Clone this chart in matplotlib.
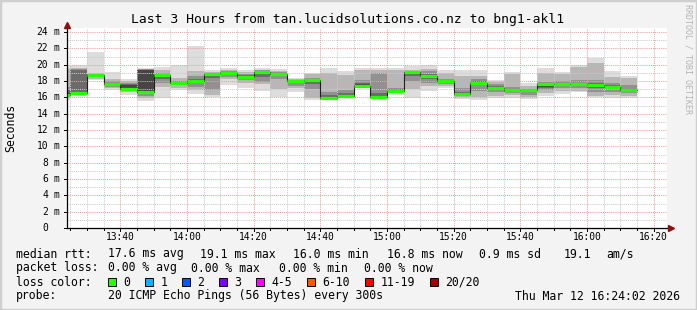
import datetime as dt
import matplotlib
matplotlib.use("Agg")
import matplotlib.pyplot as plt
import matplotlib.dates as mdates
from matplotlib.patches import Rectangle

# --- data (ms), one value per 5 min step ---
step_start = "2026-03-12 13:20"
n_steps = 35
median = [16.3, 16.55, 18.75, 17.6, 17.05, 16.6, 18.75, 17.75, 17.95, 18.85,
          19.0, 18.55, 19.05, 18.85, 18.0, 18.1, 15.95, 16.15, 17.4, 16.05,
          16.75, 19.05, 18.65, 18.0, 16.4, 17.8, 17.2, 16.85, 16.85, 17.65,
          17.65, 17.6, 17.55, 17.25, 16.85]

# smoke bands: outermost pings (lo1/hi1) down to the innermost pair (lo5/hi5)
lo1 = [15.7, 16.2, 18.1, 16.9, 16.3, 15.55, 15.9, 16.95, 16.4, 16.1, 17.5, 17.2, 16.8, 16.1, 16.7, 15.7, 15.7, 15.95,
       17.1, 15.9, 16.3, 15.9, 16.8, 17.15, 15.75, 15.7, 15.9, 15.95, 15.75, 16.2, 16.35, 16.6, 16.0, 15.9, 15.9]
hi1 = [20.0, 20.0, 21.6, 19.15, 18.25, 19.6, 19.75, 20.0, 22.3, 19.3, 19.55, 19.35, 19.55, 19.5, 18.4, 19.0, 19.6, 19.2,
       19.6, 19.6, 19.6, 19.8, 19.9, 19.35, 19.4, 19.35, 18.1, 19.1, 17.8, 19.6, 19.05, 19.95, 20.85, 19.2, 18.65]
lo2 = [15.9, 16.3, 18.2, 17.1, 16.6, 15.9, 17.3, 17.2, 16.9, 16.3, 18.2, 17.8, 17.6, 17.0, 17.1, 15.9, 15.8, 16.0,
       17.2, 15.95, 16.5, 17.0, 17.4, 17.4, 16.0, 16.0, 16.2, 16.3, 16.0, 16.5, 16.8, 16.8, 16.2, 16.3, 16.2]
hi2 = [19.5, 19.6, 18.95, 18.3, 18.0, 19.5, 19.3, 18.4, 19.2, 19.1, 19.4, 19.1, 19.4, 19.2, 18.25, 18.9, 19.0, 18.7,
       19.3, 19.3, 19.35, 19.4, 19.5, 19.0, 18.6, 18.6, 17.9, 18.9, 17.4, 19.0, 18.8, 19.7, 20.15, 18.5, 18.4]
lo3 = [16.1, 16.4, 18.5, 17.3, 16.8, 16.2, 17.7, 17.45, 17.3, 16.9, 18.5, 18.1, 17.9, 18.3, 17.4, 17.0, 15.85, 16.05,
       17.3, 16.0, 16.6, 18.0, 17.7, 17.6, 16.2, 16.8, 16.6, 16.5, 16.3, 16.9, 17.2, 17.2, 16.7, 16.7, 16.5]
hi3 = [17.3, 19.45, 18.85, 18.0, 17.8, 19.45, 19.0, 18.05, 18.6, 18.95, 19.25, 18.9, 19.3, 19.05, 18.15, 18.4, 16.7, 16.9,
       18.1, 18.95, 17.2, 19.25, 19.2, 18.3, 17.2, 18.2, 17.6, 17.3, 17.0, 17.9, 18.0, 18.1, 18.1, 17.8, 17.5]
lo4 = [16.2, 16.5, 18.6, 17.45, 16.95, 16.4, 18.3, 17.6, 17.7, 18.4, 18.8, 18.3, 18.5, 18.6, 17.7, 17.6, 15.9, 16.1,
       17.35, 16.02, 16.7, 18.6, 18.3, 17.8, 16.3, 17.5, 16.95, 16.6, 16.6, 17.2, 17.5, 17.4, 17.1, 17.0, 16.7]
hi4 = [16.9, 19.3, 18.85, 17.8, 17.65, 19.4, 18.85, 17.9, 18.2, 18.92, 19.15, 18.75, 19.15, 18.95, 18.05, 18.25, 16.3, 16.5,
       17.8, 16.5, 17.0, 19.15, 18.85, 18.15, 16.7, 17.95, 17.35, 17.0, 16.95, 17.7, 17.75, 17.8, 17.7, 17.45, 17.0]
lo5 = [16.25, 16.52, 18.7, 17.55, 17.0, 16.5, 18.6, 17.7, 17.85, 18.7, 18.9, 18.45, 18.9, 18.75, 17.9, 17.95, 15.92, 16.12,
       17.4, 16.04, 16.72, 18.95, 18.55, 17.9, 16.35, 17.7, 17.1, 16.7, 16.75, 17.3, 17.6, 17.5, 17.3, 17.15, 16.8]
hi5 = [16.5, 16.7, 18.8, 17.7, 17.55, 19.3, 18.8, 17.85, 18.05, 18.9, 19.1, 18.65, 19.1, 18.9, 18.02, 18.2, 16.1, 16.3,
       17.6, 16.2, 16.9, 19.1, 18.75, 18.08, 16.5, 17.9, 17.25, 16.9, 16.9, 17.65, 17.7, 17.7, 17.6, 17.35, 16.95]

y_ticks = [0, 2, 4, 6, 8, 10, 12, 14, 16, 18, 20, 22, 24]
x_tick_labels = ["13:40", "14:00", "14:20", "14:40", "15:00", "15:20", "15:40", "16:00", "16:20"]

loss_labels = ["0", "1", "2", "3", "4-5", "6-10", "11-19", "20/20"]
loss_colors = ["#26ff00", "#00b8ff", "#0059ff", "#7e00ff", "#ff00ff", "#ff5500", "#ff0000", "#a10000"]

title = "Last 3 Hours from tan.lucidsolutions.co.nz to bng1-akl1"
stamp = "Thu Mar 12 16:24:02 2026"

# --- figure ---
W, H = 697, 310
MONO = "DejaVu Sans Mono"
fig = plt.figure(figsize=(W / 100, H / 100), dpi=100, facecolor="#f3f3f3")
fig.patches.append(Rectangle((0, 0), 1, 1, transform=fig.transFigure, fill=False,
                             edgecolor="#cfcfcf", linewidth=2.5))


def fx(x):
    return x / W


def fy(y):
    return 1 - y / H


ax = fig.add_axes([fx(67), fy(228), 600 / W, 200 / H])
ax.set_facecolor("white")

t0 = dt.datetime.strptime(step_start, "%Y-%m-%d %H:%M")
edges = [t0 + dt.timedelta(minutes=5 * i) for i in range(n_steps + 1)]
xe = mdates.date2num(edges)
t_end = dt.datetime(2026, 3, 12, 16, 24, 2)
t_begin = t_end - dt.timedelta(hours=3)
ax.set_xlim(mdates.date2num(t_begin), mdates.date2num(t_end))
ax.set_ylim(0, 200 / (196 / 24))

# smoke
shades = ["#dddddd", "#b7b7b7", "#919191", "#6b6b6b", "#454545"]
for lo, hi, c in zip([lo1, lo2, lo3, lo4, lo5], [hi1, hi2, hi3, hi4, hi5], shades):
    ax.fill_between(xe, lo + lo[-1:], hi + hi[-1:], step="post", color=c, lw=0, zorder=1)

# grid
for v in range(1, 25):
    ax.axhline(v, color="#f2a0a0" if v % 2 == 0 else "#cccccc", lw=0.75,
               ls=(0, (1, 1)), zorder=2)
for i in range(1, 37):
    t = t0 + dt.timedelta(minutes=5 * i)
    col = "#f2a0a0" if t.minute % 20 == 0 else "#cccccc"
    ax.axvline(mdates.date2num(t), color=col, lw=0.75, ls=(0, (1, 1)), zorder=2)

# median line: thin dark steps and loss-coloured bars
ax.step(xe, median + median[-1:], where="post", color="#202020", lw=0.8, zorder=3)
ax.hlines(median, xe[:-1], xe[1:], color=loss_colors[0], lw=2.3, zorder=4)

for s in ax.spines.values():
    s.set_visible(False)
ax.set_xticks([])
ax.set_yticks([])

# axes lines with arrows
ax.plot([0, 0], [0, 1.017], transform=ax.transAxes, color="#000000", lw=0.9, clip_on=False, zorder=5)
ax.plot([0, 1.007], [0, 0], transform=ax.transAxes, color="#000000", lw=0.9, clip_on=False, zorder=5)
ax.plot([0], [1.017], transform=ax.transAxes, marker="^", ms=4, color="#8b1010", clip_on=False, zorder=6)
ax.plot([1.007], [0], transform=ax.transAxes, marker=">", ms=4, color="#8b1010", clip_on=False, zorder=6)

# y tick labels
tick_font = dict(family=MONO, size=6.9, color="#000000")
for v in y_ticks:
    ypx = 228 - v * 196 / 24
    fig.text(fx(48), fy(ypx), str(v), ha="right", va="center", **tick_font)
    if v:
        fig.text(fx(53.5), fy(ypx), "m", ha="left", va="center", **tick_font)
    fig.lines.append(plt.Line2D([fx(64), fx(67)], [fy(ypx), fy(ypx)], transform=fig.transFigure,
                                color="#000000", lw=0.7))

# x tick labels
for lab in x_tick_labels:
    hh, mm = map(int, lab.split(":"))
    t = dt.datetime(2026, 3, 12, hh, mm)
    xpx = 67 + (t - t_begin).total_seconds() / 60 * 600 / 180
    fig.text(fx(xpx), fy(237.5), lab, ha="center", va="center", **tick_font)
for i in range(1, 37):
    t = t0 + dt.timedelta(minutes=5 * i)
    xpx = 67 + (t - t_begin).total_seconds() / 60 * 600 / 180
    if xpx > 667:
        break
    ln = 3 if t.minute % 20 == 0 else 2
    fig.lines.append(plt.Line2D([fx(xpx), fx(xpx)], [fy(228), fy(228 + ln)], transform=fig.transFigure,
                                color="#000000", lw=0.7))

# titles
fig.text(fx(347.5), fy(19), title, ha="center", va="center", family=MONO, size=9.4)
fig.text(fx(11), fy(128), "Seconds", ha="center", va="center", rotation=90, family=MONO, size=8.3)
fig.text(fx(688), fy(59), "RRDTOOL / TOBI OETIKER", ha="center", va="center", rotation=-90,
         family=MONO, size=6.0, color="#b4b4b4")

# legend block
leg = dict(family=MONO, size=8.3, color="#000000", ha="left", va="center")
rows = [
    (254, [(16, "median rtt:"), (107.6, "17.6 ms avg"), (200, "19.1 ms max"), (293, "16.0 ms min"),
           (386.7, "16.8 ms now"), (479, "0.9 ms sd"), (563.6, "19.1"), (606.7, "am/s")]),
    (268, [(16, "packet loss:"), (107.6, "0.00 % avg"), (191, "0.00 % max"), (279, "0.00 % min"),
           (364.4, "0.00 % now")]),
    (282, [(16, "loss color:")]),
    (296, [(16, "probe:"), (107.6, "20 ICMP Echo Pings (56 Bytes) every 300s")]),
]
for ypx, items in rows:
    for xpx, s in items:
        fig.text(fx(xpx), fy(ypx), s, **leg)
fig.text(fx(680), fy(296), stamp, family=MONO, size=8.3, color="#000000", ha="right", va="center")

box_x = [108.4, 145, 182, 219, 256, 307, 365, 430]
for bx, lab, col in zip(box_x, loss_labels, loss_colors):
    fig.patches.append(Rectangle((fx(bx), fy(286)), 8 / W, 8 / H, transform=fig.transFigure,
                                 facecolor=col, edgecolor="#000000", linewidth=0.7))
    fig.text(fx(bx + 15.2), fy(282), lab, **leg)

fig.savefig("out.png", dpi=100, facecolor=fig.get_facecolor())
